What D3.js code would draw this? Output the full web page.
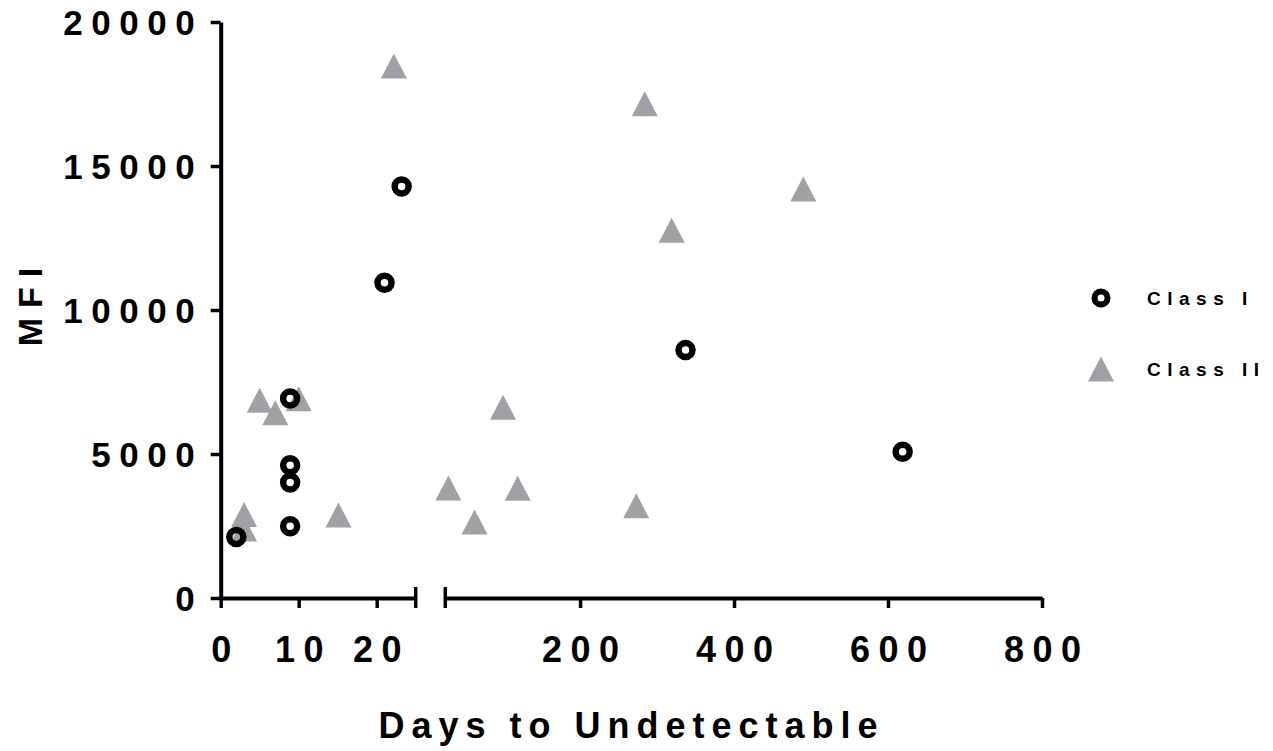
<!DOCTYPE html>
<html>
<head>
<meta charset="utf-8">
<script src="https://cdn.jsdelivr.net/npm/d3@7"></script>
<style>
  body { margin: 0; background: #fff; }
  text { font-family: Arial, "Liberation Sans", sans-serif; font-weight: bold; fill: #000; }
</style>
</head>
<body>
<div id="chart"></div>
<script>
// ---------------------------//
//            DATA            //
// ---------------------------//

// Class I: days to undetectable vs MFI
const classIDays = [2, 8.9, 8.9, 8.9, 8.9, 21, 23.2, 337, 619];
const classIMFI  = [2120, 2490, 4010, 4610, 6930, 10950, 14290, 8610, 5080];

// Class II
const classIIDays = [3, 3, 5, 7, 10, 15.1, 22.2, 29, 63, 100, 119, 273, 284, 319, 490];
const classIIMFI  = [2900, 2400, 6870, 6430, 6920, 2880, 18470, 3820, 2640, 6620, 3810, 3200, 17160, 12770, 14200];

const yTicks = [0, 5000, 10000, 15000, 20000];
const xTicksLow = [0, 10, 20];
const xTicksHigh = [200, 400, 600, 800];
const breakAt = 25;

const seriesNames = ["Class I", "Class II"];

// ---------------------------//
//       SET  CANVAS          //
// ---------------------------//
const W = 1273, H = 751;
const svg = d3.select("#chart").append("svg")
    .attr("width", W)
    .attr("height", H);

const y0 = 598, yTop = 22;
const y = d3.scaleLinear().domain([0, 20000]).range([y0, yTop]);

// broken x axis: two linear segments
const xLow = d3.scaleLinear().domain([0, breakAt]).range([220.7, 415.7]);
const xHigh = d3.scaleLinear().domain([breakAt, 800]).range([445.3, 1042]);
const x = v => v <= breakAt ? xLow(v) : xHigh(v);

const fs = 35, ls = 8.5;

// ---------------------------//
//            AXES            //
// ---------------------------//
function styleAxis(g) {
    g.selectAll("path.domain").attr("stroke", "#000").attr("stroke-width", 4);
    g.selectAll(".tick line").attr("stroke", "#000").attr("stroke-width", 3.5);
    g.selectAll(".tick text")
        .style("font-size", fs + "px")
        .style("font-weight", "bold")
        .style("letter-spacing", ls + "px")
        .attr("fill", "#000");
}

// Y axis
svg.append("g")
    .attr("transform", `translate(${xLow(0)},0)`)
    .call(d3.axisLeft(y).tickValues(yTicks).tickFormat(d3.format("d"))
        .tickSize(10).tickSizeOuter(0).tickPadding(16))
    .call(styleAxis)
    .selectAll(".tick text")
    .attr("dx", ls)
    .attr("dy", "0.36em");

// X axis, low segment
svg.append("g")
    .attr("transform", `translate(0,${y0})`)
    .call(d3.axisBottom(xLow).tickValues(xTicksLow).tickSize(10).tickSizeOuter(0).tickPadding(28))
    .call(styleAxis)
    .selectAll(".tick text")
    .style("font-size", "36px")
    .attr("dx", ls / 2);

// X axis, high segment
svg.append("g")
    .attr("transform", `translate(0,${y0})`)
    .call(d3.axisBottom(xHigh).tickValues(xTicksHigh).tickSize(10).tickSizeOuter(0).tickPadding(28))
    .call(styleAxis)
    .selectAll(".tick text")
    .style("font-size", "36px")
    .attr("dx", ls / 2);

// break marks
svg.selectAll("line.break")
    .data([xLow(breakAt), xHigh(breakAt)])
    .enter().append("line")
    .attr("x1", d => d).attr("x2", d => d)
    .attr("y1", y0 - 11).attr("y2", y0 + 10)
    .attr("stroke", "#000")
    .attr("stroke-width", 3.5);

// Axis labels
svg.append("text")
    .attr("x", 628 + 3.5)
    .attr("y", 738)
    .attr("text-anchor", "middle")
    .style("font-size", "36px")
    .style("letter-spacing", "7px")
    .text("Days to Undetectable");

svg.append("text")
    .attr("transform", `translate(42,${297 + 5}) rotate(-90)`)
    .attr("text-anchor", "middle")
    .style("font-size", "34px")
    .style("letter-spacing", "10px")
    .text("MFI");

// ---------------------------//
//           MARKS            //
// ---------------------------//
const triPath = "M0,-12.5L13,12.5L-13,12.5Z";
const grey = "#a1a1a5";

const triData = classIIDays.map((d, i) => ({ d, v: classIIMFI[i] }));
const circData = classIDays.map((d, i) => ({ d, v: classIMFI[i] }));

svg.selectAll("path.tri")
    .data(triData)
    .enter().append("path")
    .attr("class", "tri")
    .attr("d", triPath)
    .attr("transform", p => `translate(${x(p.d)},${y(p.v)})`)
    .attr("fill", grey);

svg.selectAll("circle.dot")
    .data(circData)
    .enter().append("circle")
    .attr("class", "dot")
    .attr("cx", p => x(p.d))
    .attr("cy", p => y(p.v))
    .attr("r", 7)
    .attr("fill", "none")
    .attr("stroke", "#000")
    .attr("stroke-width", 6.5);

// ---------------------------//
//           LEGEND           //
// ---------------------------//
const legX = 1101, legY = [298, 369];

svg.append("circle")
    .attr("cx", legX).attr("cy", legY[0])
    .attr("r", 6.5)
    .attr("fill", "none")
    .attr("stroke", "#000")
    .attr("stroke-width", 6);

svg.append("path")
    .attr("d", triPath)
    .attr("transform", `translate(${legX},${legY[1]})`)
    .attr("fill", grey);

svg.selectAll("text.leg")
    .data(seriesNames)
    .enter().append("text")
    .attr("class", "leg")
    .attr("x", 1147)
    .attr("y", (d, i) => legY[i] + 7)
    .style("font-size", "19px")
    .style("letter-spacing", "6.5px")
    .text(d => d);
</script>
</body>
</html>
